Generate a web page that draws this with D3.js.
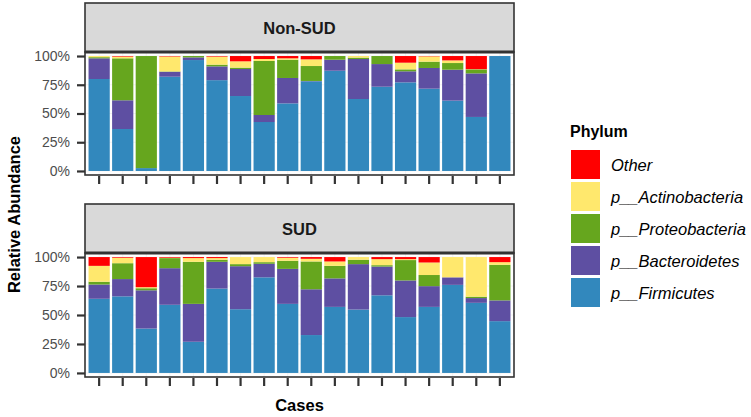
<!DOCTYPE html>
<html>
<head>
<meta charset="utf-8">
<script src="https://cdn.jsdelivr.net/npm/d3@7"></script>
<style>
  body { margin: 0; background: #fff; }
  svg { display: block; font-family: "Liberation Sans", Arial, Helvetica, sans-serif; }
</style>
</head>
<body>
<svg id="chart" width="751" height="417"></svg>
<script>
// ---- data ----
const cases = ["1","2","3","4","5","6","7","8","9","10","11","12","13","14","15","16","17","18"];
const groups = ["Non-SUD", "SUD"];
const phyla = ["Other", "p__Actinobacteria", "p__Proteobacteria", "p__Bacteroidetes", "p__Firmicutes"];
const phylaColors = ["#FF0000", "#FFE86D", "#66A61E", "#5E4FA2", "#3288BD"];
const yTicks = [0, 0.25, 0.5, 0.75, 1];
const yTickLabels = ["0%", "25%", "50%", "75%", "100%"];

const nonSUD_Firmicutes      = [80, 36.5, 2.5, 82, 96.5, 79, 65.2, 42.6, 58.8, 78, 87.2, 62.6, 73.3, 77.1, 71.6, 61.2, 47, 100];
const nonSUD_Bacteroidetes   = [18, 25, 0, 4.3, 2.3, 12, 23.5, 6.1, 22.1, 0.3, 9.6, 34.8, 19.7, 9.6, 18, 26.9, 37.9, 0];
const nonSUD_Proteobacteria  = [1, 36.5, 97.5, 0.3, 1.2, 1.5, 1.2, 47, 15.9, 13, 3.2, 1.2, 7, 1.7, 5.5, 5.8, 3.5, 0];
const nonSUD_Actinobacteria  = [1, 1.5, 0, 13, 0, 7, 5.5, 1.7, 1.2, 5.8, 0, 1.4, 0, 5.8, 4.6, 2.3, 0.2, 0];
const nonSUD_Other           = [0, 0.5, 0, 0.4, 0, 0.5, 4.6, 2.6, 2, 2.9, 0, 0, 0, 5.8, 0.3, 3.8, 11.4, 0];

const sud_Firmicutes         = [64, 66.1, 38.3, 58.8, 26.9, 72.8, 55, 82.5, 59.6, 32.7, 57, 54.7, 67, 48.2, 57, 76, 60.5, 44.7];
const sud_Bacteroidetes      = [12.3, 14.9, 33, 31.6, 32.7, 23.1, 37.1, 11.7, 30.2, 39.5, 24.6, 39.2, 24.8, 31.6, 17.9, 6.5, 4.1, 17.9];
const sud_Proteobacteria     = [2.4, 13.7, 1.8, 8.7, 36.3, 1.8, 1.8, 1.4, 7, 24, 10.8, 3.8, 1.2, 17.6, 9.6, 0, 1.2, 30.7];
const sud_Actinobacteria     = [13.7, 4.7, 0.9, 0.3, 3.2, 1.4, 6.1, 4.4, 2.6, 2.3, 3.8, 2.3, 5.2, 0.8, 10.8, 17.5, 34.2, 2.3];
const sud_Other              = [7.6, 0.6, 26, 0.6, 0.9, 0.9, 0, 0, 0.6, 1.5, 3.8, 0, 1.8, 1.8, 4.7, 0, 0, 4.4];

// build tables
function buildRows(F, B, P, A, O) {
  return cases.map((c, i) => {
    const tot = F[i] + B[i] + P[i] + A[i] + O[i];
    return {
      case: c,
      "p__Firmicutes": F[i] / tot,
      "p__Bacteroidetes": B[i] / tot,
      "p__Proteobacteria": P[i] / tot,
      "p__Actinobacteria": A[i] / tot,
      "Other": O[i] / tot
    };
  });
}
const groupRows = [
  buildRows(nonSUD_Firmicutes, nonSUD_Bacteroidetes, nonSUD_Proteobacteria, nonSUD_Actinobacteria, nonSUD_Other),
  buildRows(sud_Firmicutes, sud_Bacteroidetes, sud_Proteobacteria, sud_Actinobacteria, sud_Other)
];

// ---- layout ----
const svg = d3.select("#chart");
const panelLeft = 85, panelRight = 514;
const panels = [
  { stripTop: 3, panelTop: 52, panelBottom: 175 },
  { stripTop: 204, panelTop: 253, panelBottom: 377 }
];
const dark = "#333333";

const color = d3.scaleOrdinal().domain(phyla).range(phylaColors);
const x = d3.scaleBand().domain(cases).range([panelLeft, panelRight]).paddingInner(0.1).paddingOuter(0.15);
const stackOrder = ["p__Firmicutes", "p__Bacteroidetes", "p__Proteobacteria", "p__Actinobacteria", "Other"];
const stack = d3.stack().keys(stackOrder);

panels.forEach((p, gi) => {
  const y = d3.scaleLinear().domain([-0.035, 1.035]).range([p.panelBottom, p.panelTop]);
  const g = svg.append("g");

  // panel background + grid
  g.append("rect").attr("x", panelLeft).attr("y", p.panelTop)
    .attr("width", panelRight - panelLeft).attr("height", p.panelBottom - p.panelTop)
    .attr("fill", "#fff");
  g.selectAll("line.hgrid").data(yTicks).join("line")
    .attr("x1", panelLeft).attr("x2", panelRight)
    .attr("y1", d => y(d)).attr("y2", d => y(d))
    .attr("stroke", "#ebebeb").attr("stroke-width", 0.6);
  g.selectAll("line.vgrid").data(cases).join("line")
    .attr("y1", p.panelTop).attr("y2", p.panelBottom)
    .attr("x1", d => x(d) + x.bandwidth() / 2).attr("x2", d => x(d) + x.bandwidth() / 2)
    .attr("stroke", "#ebebeb").attr("stroke-width", 0.6);

  // bars
  const series = stack(groupRows[gi]);
  g.selectAll("g.layer").data(series).join("g")
    .attr("fill", d => color(d.key))
    .selectAll("rect").data(d => d).join("rect")
    .attr("x", d => x(d.data.case))
    .attr("width", x.bandwidth())
    .attr("y", d => y(d[1]))
    .attr("height", d => Math.max(0, y(d[0]) - y(d[1])));

  // panel border
  g.append("rect").attr("x", panelLeft).attr("y", p.panelTop)
    .attr("width", panelRight - panelLeft).attr("height", p.panelBottom - p.panelTop)
    .attr("fill", "none").attr("stroke", dark).attr("stroke-width", 1.6);

  // strip
  g.append("rect").attr("x", panelLeft).attr("y", p.stripTop)
    .attr("width", panelRight - panelLeft).attr("height", p.panelTop - p.stripTop)
    .attr("fill", "#d9d9d9").attr("stroke", dark).attr("stroke-width", 1.6);
  g.append("line").attr("x1", panelLeft).attr("x2", panelRight)
    .attr("y1", p.panelTop).attr("y2", p.panelTop)
    .attr("stroke", dark).attr("stroke-width", 3);
  g.append("text").attr("x", (panelLeft + panelRight) / 2)
    .attr("y", (p.stripTop + p.panelTop) / 2)
    .attr("text-anchor", "middle").attr("dominant-baseline", "central")
    .attr("font-size", 16.5).attr("font-weight", "bold").attr("fill", "#1a1a1a")
    .text(groups[gi]);

  // y axis
  const yAxis = d3.axisLeft(y).tickValues(yTicks)
    .tickFormat((d, i) => yTickLabels[i]).tickSize(8).tickPadding(7);
  const ya = g.append("g").attr("transform", `translate(${panelLeft},0)`).call(yAxis);
  ya.select(".domain").remove();
  ya.selectAll(".tick line").attr("stroke", dark).attr("stroke-width", 2.2);
  ya.selectAll(".tick text").attr("fill", "#4d4d4d").attr("font-size", 14)
    .attr("font-family", "'Liberation Sans', Arial, sans-serif");

  // x axis
  const xAxis = d3.axisBottom(x).tickFormat("").tickSize(8).tickPadding(2);
  const xa = g.append("g").attr("transform", `translate(0,${p.panelBottom + 1})`).call(xAxis);
  xa.select(".domain").remove();
  xa.selectAll(".tick line").attr("stroke", dark).attr("stroke-width", 2.2);
});

// axis titles
svg.append("text")
  .attr("transform", `translate(20,${(panels[0].panelTop + panels[1].panelBottom) / 2}) rotate(-90)`)
  .attr("text-anchor", "middle").attr("font-size", 16.5).attr("font-weight", "bold").attr("fill", "#000")
  .text("Relative Abundance");
svg.append("text")
  .attr("x", (panelLeft + panelRight) / 2).attr("y", 411)
  .attr("text-anchor", "middle").attr("font-size", 16.5).attr("font-weight", "bold").attr("fill", "#000")
  .text("Cases");

// legend
const leg = svg.append("g");
leg.append("text").attr("x", 570).attr("y", 137)
  .attr("font-size", 16).attr("font-weight", "bold").attr("fill", "#000").text("Phylum");
const items = leg.selectAll("g.item").data(phyla).join("g")
  .attr("transform", (d, i) => `translate(571,${150 + i * 32})`);
items.append("rect").attr("width", 29).attr("height", 29).attr("fill", d => color(d));
items.append("text").attr("x", 40).attr("y", 14.5)
  .attr("dominant-baseline", "central").attr("font-size", 16.5).attr("font-style", "italic")
  .attr("fill", "#000").text(d => d);
</script>
</body>
</html>
